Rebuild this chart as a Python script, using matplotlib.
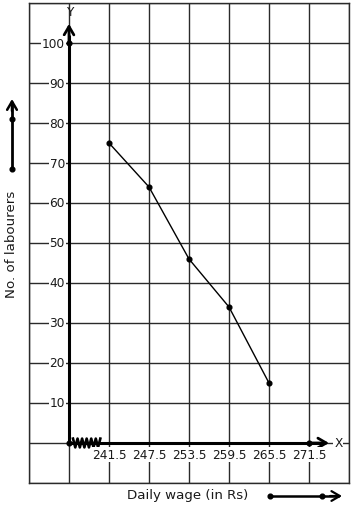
import numpy as np
import matplotlib
matplotlib.use("Agg")
import matplotlib.pyplot as plt

# ---- data ----
wages = [241.5, 247.5, 253.5, 259.5, 265.5]
labourers = [75, 64, 46, 34, 15]
x_tick_labels = [241.5, 247.5, 253.5, 259.5, 265.5, 271.5]
y_tick_labels = [10, 20, 30, 40, 50, 60, 70, 80, 90, 100]
origin_x = 235.5  # position of the broken-axis origin

W, H = 354, 510
DPI = 100
fig = plt.figure(figsize=(W / DPI, H / DPI), dpi=DPI)
fig.patch.set_facecolor("white")

L, R, T, B = 29, 349, 4, 484
ax = fig.add_axes([L / W, 1 - B / H, (R - L) / W, (B - T) / H])
ax.set_xlim(229.5, 277.5)
ax.set_ylim(-10, 110)
ax.set_xticks(np.arange(229.5, 277.6, 6))
ax.set_yticks(np.arange(-10, 111, 10))
ax.tick_params(length=0, labelleft=False, labelbottom=False)
ax.grid(True, color="#2a2a2a", lw=1.0)
for s in ax.spines.values():
    s.set_color("#2a2a2a")
    s.set_linewidth(1.0)
ax.set_axisbelow(True)

txtc = "#1a1a1a"
fs = 8.7
fs_title = 9.6
bb = dict(facecolor="white", edgecolor="none", pad=0.6)

# axes lines with arrows
ax.plot([origin_x, origin_x], [0, 102], color="black", lw=2.2, zorder=3, solid_capstyle="butt")
ax.annotate("", xy=(origin_x, 104.8), xytext=(origin_x, 100),
            arrowprops=dict(arrowstyle="->,head_length=0.6,head_width=0.35", lw=2.0,
                            color="black", shrinkA=0, shrinkB=0, mutation_scale=10), zorder=4)
ax.plot([origin_x, 273.5], [0, 0], color="black", lw=2.2, zorder=3, solid_capstyle="butt")
ax.annotate("", xy=(274.5, 0), xytext=(271.5, 0),
            arrowprops=dict(arrowstyle="->,head_length=0.6,head_width=0.35", lw=2.0,
                            color="black", shrinkA=0, shrinkB=0, mutation_scale=10), zorder=4)
ax.text(origin_x + 0.3, 109.4, "Y", ha="center", va="top", fontsize=fs, color=txtc, zorder=5)
ax.text(275.9, 0, "X", ha="center", va="center", fontsize=fs, color=txtc, bbox=bb, zorder=5)

# zigzag break on the x axis
n_pts = 13
zz_x = np.linspace(origin_x + 0.6, origin_x + 4.7, n_pts)
zz_y = np.where(np.arange(n_pts) % 2 == 0, 1.1, -1.1)
ax.plot(zz_x, zz_y, color="black", lw=1.9, zorder=4)

# points on axes
ax.plot([origin_x, origin_x, 271.5], [0, 100, 0], "o", color="black", ms=3.4, zorder=6)

# data line
ax.plot(wages, labourers, "-o", color="black", lw=1.0, ms=3.4, zorder=5)

# tick labels
for v in y_tick_labels:
    ax.annotate(str(v), xy=(origin_x, v), xytext=(-3, 0), textcoords="offset points",
                ha="right", va="center", fontsize=fs, color=txtc, bbox=bb, zorder=5)
for v in x_tick_labels:
    ax.annotate(f"{v:.1f}", xy=(v, 0), xytext=(0, -8.5), textcoords="offset points",
                ha="center", va="center", fontsize=fs, color=txtc, bbox=bb, zorder=5)

# axis titles
fig.text(188 / W, 1 - 496 / H, "Daily wage (in Rs)", ha="center", va="center", fontsize=fs_title, color=txtc)
fig.text(12 / W, 1 - 244 / H, "No. of labourers", ha="center", va="center", rotation=90,
         fontsize=fs_title, color=txtc)

# decorative direction arrows
def P(x, y):
    return (x / W, 1 - y / H)

fig.add_artist(matplotlib.lines.Line2D([12 / W, 12 / W], [1 - 170 / H, 1 - 104 / H],
                                        color="black", lw=2.0, transform=fig.transFigure))
fig.add_artist(matplotlib.patches.FancyArrowPatch(P(12, 112), P(12, 100), transform=fig.transFigure,
               arrowstyle="->,head_length=0.6,head_width=0.35", lw=1.8, color="black",
               mutation_scale=10, shrinkA=0, shrinkB=0))
fig.add_artist(matplotlib.lines.Line2D([12 / W, 12 / W], [1 - 170 / H, 1 - 120 / H], ls="none",
               marker="o", ms=3.4, color="black", transform=fig.transFigure))

fig.add_artist(matplotlib.lines.Line2D([270 / W, 338 / W], [1 - 497 / H, 1 - 497 / H],
                                        color="black", lw=1.8, transform=fig.transFigure))
fig.add_artist(matplotlib.patches.FancyArrowPatch(P(330, 497), P(342, 497), transform=fig.transFigure,
               arrowstyle="->,head_length=0.6,head_width=0.35", lw=1.6, color="black",
               mutation_scale=10, shrinkA=0, shrinkB=0))
fig.add_artist(matplotlib.lines.Line2D([270 / W, 322 / W], [1 - 497 / H, 1 - 497 / H], ls="none",
               marker="o", ms=3.4, color="black", transform=fig.transFigure))

fig.savefig("out.png", dpi=DPI, facecolor="white")
